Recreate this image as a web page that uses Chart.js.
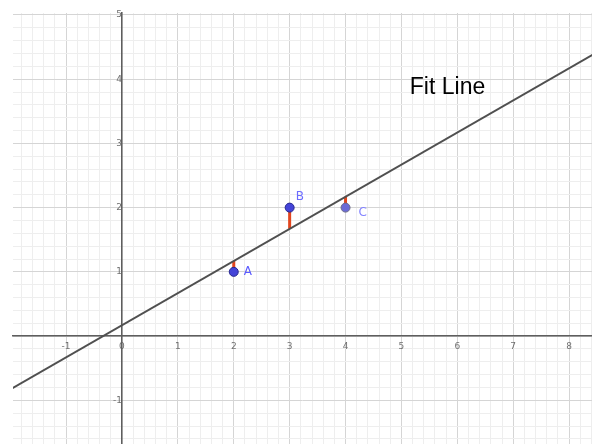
<!DOCTYPE html>
<html>
<head>
<meta charset="utf-8">
<script src="https://cdn.jsdelivr.net/npm/chart.js@4"></script>
<style>
  html, body { margin: 0; padding: 0; background: #fff; }
  canvas { display: block; }
</style>
</head>
<body>
<canvas id="fitChart" width="592" height="444"></canvas>
<script>
// 三个样本点
const pointNames = ['A', 'B', 'C'];
const pointX = [2, 3, 4];
const pointY = [1, 2, 2];
// 拟合线在各点 x 处的值（残差线段的另一端）
const fitAtPoint = [1.17, 1.67, 2.17];
// 拟合线两端
const fitLineX = [-2, 9];
const fitLineY = [-0.83, 4.67];
// 坐标范围
const xRange = [-1.95, 8.41];
const yRange = [-1.68, 5.03];

const isWhole = v => Math.abs(v - Math.round(v)) < 1e-6;
const gridColor = ctx => (ctx.tick && isWhole(ctx.tick.value)) ? '#d5d5d5' : '#eeeeee';
const tickFont = { family: 'DejaVu Sans', size: 9 };

// 轴放在原点上，不让刻度文字占边距
const noPadding = scale => {
  scale.paddingLeft = 0;
  scale.paddingRight = 0;
  scale.paddingTop = 0;
  scale.paddingBottom = 0;
};

// 残差线段
const residualSets = pointX.map((x, i) => ({
  type: 'line',
  data: [{ x: x, y: pointY[i] }, { x: x, y: fitAtPoint[i] }],
  borderColor: '#e2461f',
  borderWidth: 3,
  pointRadius: 0,
  order: 3
}));

// 点名和 "Fit Line" 文字
const labelPlugin = {
  id: 'pointLabels',
  afterDatasetsDraw(chart) {
    const { ctx, scales: { x, y } } = chart;
    const offsets = [[10, 0], [6, -11], [13, 5]];
    const colors = ['#5a5aff', '#6c6cff', '#8484ff'];
    ctx.save();
    ctx.font = '12px "DejaVu Sans"';
    ctx.textBaseline = 'middle';
    pointNames.forEach((name, i) => {
      ctx.fillStyle = colors[i];
      ctx.fillText(name, x.getPixelForValue(pointX[i]) + offsets[i][0], y.getPixelForValue(pointY[i]) + offsets[i][1]);
    });
    ctx.fillStyle = '#000';
    ctx.font = '23px "Liberation Sans"';
    ctx.fillText('Fit Line', x.getPixelForValue(5.15), y.getPixelForValue(3.86));
    ctx.restore();
  }
};

new Chart(document.getElementById('fitChart'), {
  type: 'scatter',
  data: {
    datasets: [
      {
        data: pointX.map((x, i) => ({ x: x, y: pointY[i] })),
        backgroundColor: ['#4444d8', '#4444d8', '#6b6bd6'],
        borderColor: ['#26268f', '#26268f', '#6a6a88'],
        borderWidth: 1,
        pointRadius: 4.5,
        order: 1
      },
      {
        type: 'line',
        data: fitLineX.map((x, i) => ({ x: x, y: fitLineY[i] })),
        borderColor: '#505050',
        borderWidth: 2,
        pointRadius: 0,
        order: 2
      },
      ...residualSets
    ]
  },
  options: {
    responsive: false,
    animation: false,
    layout: { autoPadding: false, padding: { left: 13, top: 13, right: 0, bottom: 0 } },
    plugins: {
      legend: { display: false },
      tooltip: { enabled: false }
    },
    scales: {
      x: {
        type: 'linear',
        position: { y: 0 },
        min: xRange[0],
        max: xRange[1],
        afterFit: noPadding,
        grid: { color: gridColor, drawTicks: false },
        border: { color: '#5e5e5e', width: 1.6 },
        ticks: {
          stepSize: 0.2,
          autoSkip: false,
          maxRotation: 0,
          includeBounds: false,
          padding: 5,
          color: '#707070',
          font: tickFont,
          callback: v => isWhole(v) ? String(Math.round(v)) : ''
        }
      },
      y: {
        type: 'linear',
        position: { x: 0 },
        min: yRange[0],
        max: yRange[1],
        afterFit: noPadding,
        grid: { color: gridColor, drawTicks: false },
        border: { color: '#5e5e5e', width: 1.6 },
        ticks: {
          stepSize: 0.2,
          autoSkip: false,
          includeBounds: false,
          padding: 6,
          color: '#707070',
          font: tickFont,
          callback: v => (isWhole(v) && Math.round(v) !== 0) ? String(Math.round(v)) : ''
        }
      }
    }
  },
  plugins: [labelPlugin]
});
</script>
</body>
</html>
